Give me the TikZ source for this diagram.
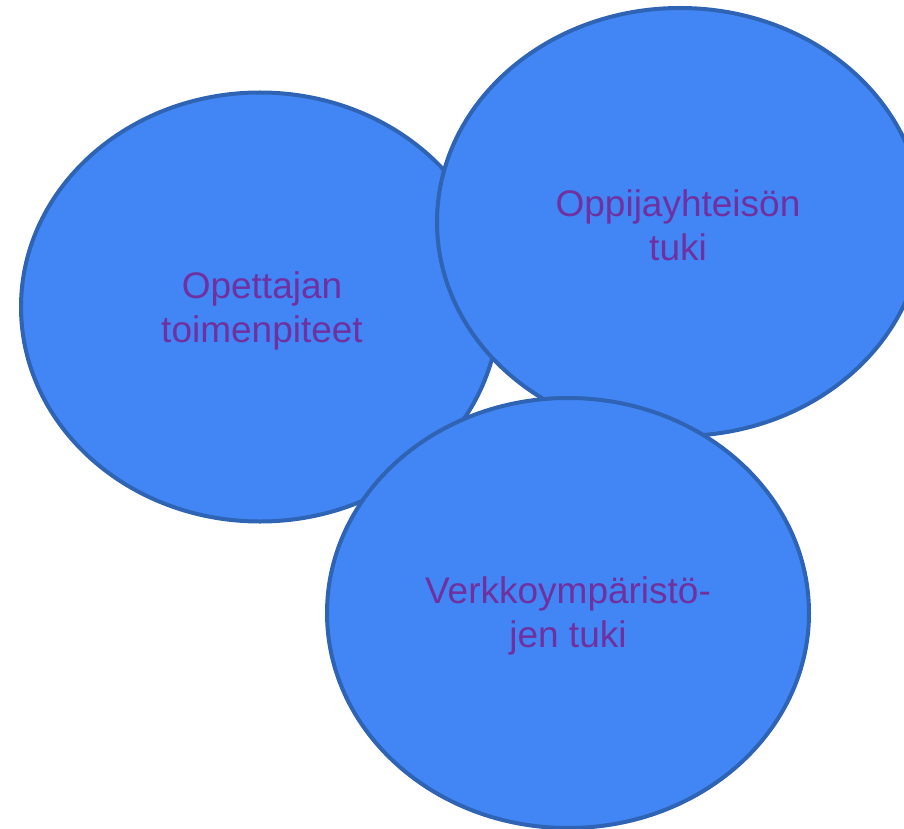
\documentclass[tikz,border=0pt]{standalone}
\usepackage{fontspec}
\setmainfont{Liberation Sans}
\usetikzlibrary{shapes.geometric}
\definecolor{bubblefill}{RGB}{66,133,244}
\definecolor{bubbleline}{RGB}{47,99,179}
\definecolor{bubbletext}{RGB}{112,48,160}
\begin{document}
\begin{tikzpicture}[x=1pt,y=-1pt,
  bubble/.style={ellipse, draw=bubbleline, fill=bubblefill, line width=4pt,
    inner sep=0pt},
  caption/.style={text=bubbletext, align=center, inner sep=0pt,
    font=\fontsize{37}{44}\selectfont}]
  \useasboundingbox (0,0) rectangle (904,829);
  \clip (0,0) rectangle (904,829);
  \node[bubble, minimum width=478pt, minimum height=429pt] (teacher) at (260,307) {};
  \node[caption] (teacher-text) at (262,311) {Opettajan\\toimenpiteet};
  \node[bubble, minimum width=486pt, minimum height=428pt] (community) at (680,222) {};
  \node[caption] (community-text) at (678,225) {Oppijayhteisön\\tuki};
  \node[bubble, minimum width=482pt, minimum height=430pt] (network) at (568,613) {};
  \node[caption] (network-text) at (568,616) {Verkkoympäristö-\\jen tuki};
\end{tikzpicture}
\end{document}
